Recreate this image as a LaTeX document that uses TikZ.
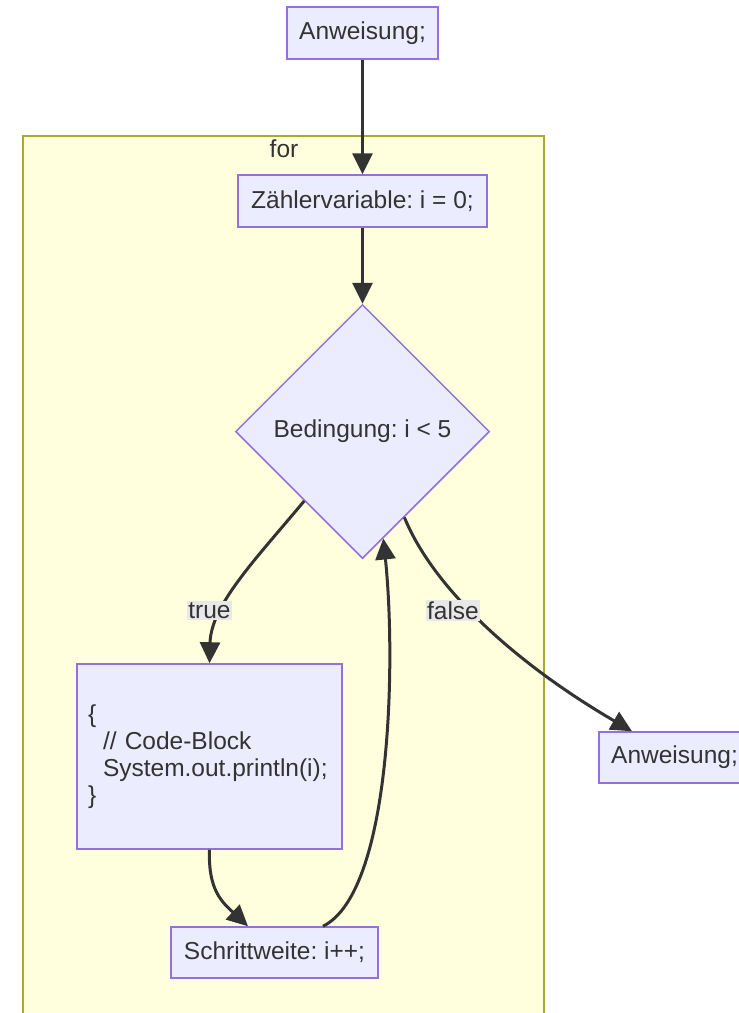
\documentclass[tikz,border=0pt]{standalone}
\usepackage{fontspec}
\setmainfont{Liberation Sans}
\usetikzlibrary{arrows.meta,shapes.geometric}
\definecolor{nodefill}{HTML}{ECECFF}
\definecolor{nodeline}{HTML}{9370DB}
\definecolor{edgec}{HTML}{333333}
\definecolor{clusterfill}{HTML}{FFFFDE}
\definecolor{clusterline}{HTML}{AAAA33}
\definecolor{lblbg}{HTML}{E8E8E8}
\definecolor{textc}{HTML}{333333}
\frenchspacing
\tikzset{
  every node/.style={font=\fontsize{24.5}{27}\selectfont\frenchspacing, text=textc},
  procbox/.style={draw=nodeline, fill=nodefill, line width=1.5pt, rectangle, inner sep=0pt},
  decbox/.style={draw=nodeline, fill=nodefill, line width=1.5pt, diamond, aspect=1, inner sep=0pt, minimum width=254pt, minimum height=254pt},
  flow/.style={draw=edgec, line width=3pt, -{Triangle[length=21pt,width=20pt]}},
  elabel/.style={fill=lblbg, inner sep=1.5pt}
}
\begin{document}
\begin{tikzpicture}[x=1pt,y=-1pt]
\useasboundingbox (0,0) rectangle (739,1013);
\clip (0,0) rectangle (739,1013);
\fill[white] (0,0) rectangle (739,1013);
% cluster
\draw[draw=clusterline, fill=clusterfill, line width=1.5pt] (23,136) rectangle (544,1030);
\node (forlbl) at (284,149) {for};
% nodes
\node[procbox, minimum width=151pt, minimum height=52pt] (start) at (362.5,33) {Anweisung;};
\node[procbox, minimum width=249pt, minimum height=52pt] (init) at (362.5,201) {Zählervariable: i = 0;};
\node[decbox] (cond) at (362.5,431.5) {Bedingung: i < 5};
\node[procbox, minimum width=265pt, minimum height=185pt, text width=243pt, align=left] (code) at (209.5,756.5)
  {\{\\\hspace*{15pt}// Code-Block\\\hspace*{15pt}System.out.println(i);\\\}};
\node[procbox, minimum width=207pt, minimum height=51pt] (step) at (274.5,952.5) {Schrittweite: i++;};
\node[procbox, minimum width=151pt, minimum height=51pt] (after) at (674.5,757.5) {Anweisung;};
% edges
\draw[flow] (start.south) -- (init.north);
\draw[flow] (init.south) -- (cond.north);
\draw[flow] (cond.230) .. controls (255,560) and (211,605) .. (code.north);
\node[elabel] (ltrue) at (209.5,610.5) {true};
\draw[flow] (cond.296) .. controls (432,585) and (510,660) .. ([xshift=-42.5pt]after.north);
\node[elabel] (lfalse) at (453,610.5) {false};
\draw[flow] (code.south) .. controls (208,890) and (222,902) .. ([xshift=-26.5pt]step.north);
\draw[flow] ([xshift=48.5pt]step.north) .. controls (392,892) and (396,660) .. (cond.281);
\end{tikzpicture}
\end{document}
